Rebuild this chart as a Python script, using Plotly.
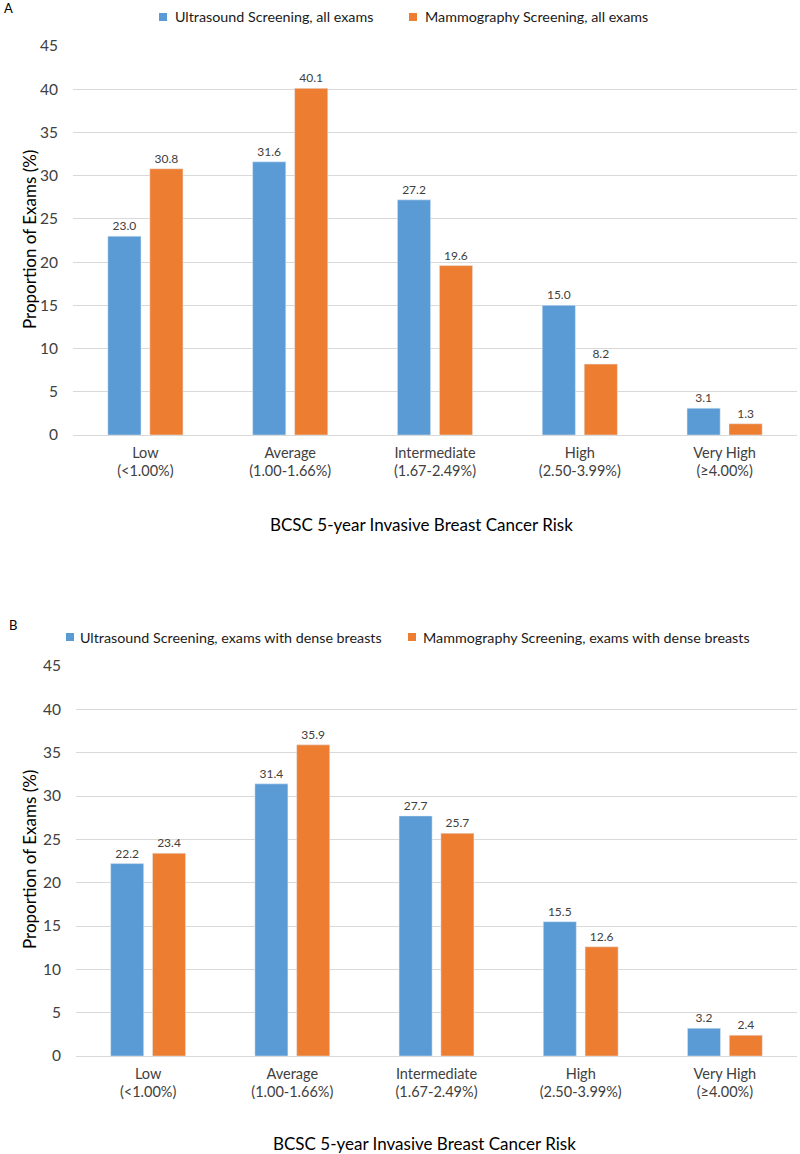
import plotly.graph_objects as go

categories = ["Low<br>(&lt;1.00%)", "Average<br>(1.00-1.66%)", "Intermediate<br>(1.67-2.49%)",
              "High<br>(2.50-3.99%)", "Very High<br>(≥4.00%)"]
us_all = [23.0, 31.6, 27.2, 15.0, 3.1]
mammo_all = [30.8, 40.1, 19.6, 8.2, 1.3]
us_dense = [22.2, 31.4, 27.7, 15.5, 3.2]
mammo_dense = [23.4, 35.9, 25.7, 12.6, 2.4]
yticks = [0, 5, 10, 15, 20, 25, 30, 35, 40, 45]
legend_a = ["Ultrasound Screening, all exams", "Mammography Screening, all exams"]
legend_b = ["Ultrasound Screening, exams with dense breasts", "Mammography Screening, exams with dense breasts"]

BLUE = "#5B9BD5"
ORANGE = "#ED7D31"
FONT = "Lato"
W, H = 800, 1154

fig = go.Figure()

def add_bars(vals, color, name, xa, ya):
    fig.add_trace(go.Bar(x=categories, y=vals, marker_color=color, xaxis=xa, yaxis=ya, name=name,
                         text=[f"{v:.1f}" for v in vals], textposition="outside",
                         textfont=dict(size=12, color="#404040", family=FONT),
                         cliponaxis=False, showlegend=False))

add_bars(us_all, BLUE, legend_a[0], "x", "y")
add_bars(mammo_all, ORANGE, legend_a[1], "x", "y")
add_bars(us_dense, BLUE, legend_b[0], "x2", "y2")
add_bars(mammo_dense, ORANGE, legend_b[1], "x2", "y2")

def px_x(p):
    return p / W

def px_y(p):
    return 1 - p / H

xaxis_common = dict(showgrid=False, zeroline=False, showline=False, ticks="",
                    tickfont=dict(size=14.5, color="#404040", family=FONT), ticklabelstandoff=7,
                    fixedrange=True)
yaxis_common = dict(range=[0, 45], tickvals=yticks, showgrid=True, gridcolor="#D9D9D9", gridwidth=1,
                    zeroline=True, zerolinecolor="#D9D9D9", zerolinewidth=1, showline=False, ticks="",
                    tickfont=dict(size=15.5, color="#404040", family=FONT), ticklabelstandoff=14)

annotations = [
    dict(text="A", x=px_x(2), y=px_y(8)),
    dict(text="B", x=px_x(7), y=px_y(625)),
]
annotations = [dict(a, xref="paper", yref="paper", showarrow=False, xanchor="left", yanchor="middle",
                    font=dict(size=13, color="#000000", family=FONT)) for a in annotations]
for txt, x, y in [("BCSC 5-year Invasive Breast Cancer Risk", 421, 525),
                  ("BCSC 5-year Invasive Breast Cancer Risk", 424, 1143)]:
    annotations.append(dict(text=txt, x=px_x(x), y=px_y(y), xref="paper", yref="paper",
                            showarrow=False, xanchor="center", yanchor="middle",
                            font=dict(size=17, color="#000000", family=FONT)))
for y in (240, 860):
    annotations.append(dict(text="Proportion of Exams (%)", x=px_x(29), y=px_y(y), textangle=-90,
                            xref="paper", yref="paper", showarrow=False, xanchor="center",
                            yanchor="middle", font=dict(size=17, color="#000000", family=FONT)))

# legends (square swatch + label)
shapes = []
for labels, xs, ytop in [(legend_a, [(163, 173), (413, 423)], 17), (legend_b, [(70, 78), (412, 421)], 637)]:
    for label, color, (mx, tx) in zip(labels, [BLUE, ORANGE], xs):
        shapes.append(dict(type="rect", xref="paper", yref="paper",
                           x0=px_x(mx - 4), x1=px_x(mx + 4), y0=px_y(ytop - 4), y1=px_y(ytop + 4),
                           fillcolor=color, line=dict(width=0)))
        annotations.append(dict(text=label, x=px_x(tx), y=px_y(ytop), xref="paper", yref="paper",
                                showarrow=False, xanchor="left", yanchor="middle",
                                font=dict(size=14.3, color="#1a1a1a", family=FONT)))

fig.update_layout(
    width=W, height=H, margin=dict(l=0, r=0, t=0, b=0, autoexpand=False),
    paper_bgcolor="white", plot_bgcolor="white",
    barmode="group", bargap=0.42, bargroupgap=0.21,
    font=dict(family=FONT, color="#404040"),
    showlegend=False,
    xaxis=dict(domain=[px_x(73), px_x(797)], anchor="y", **xaxis_common),
    yaxis=dict(domain=[px_y(435), px_y(46)], anchor="x", **yaxis_common),
    xaxis2=dict(domain=[px_x(76), px_x(797)], anchor="y2", **xaxis_common),
    yaxis2=dict(domain=[px_y(1056), px_y(666)], anchor="x2", **yaxis_common),
    annotations=annotations,
    shapes=shapes,
)

fig.write_html("out.html", config={"displayModeBar": False},
               post_script="document.body.style.margin='0';document.body.style.overflow='hidden';")
